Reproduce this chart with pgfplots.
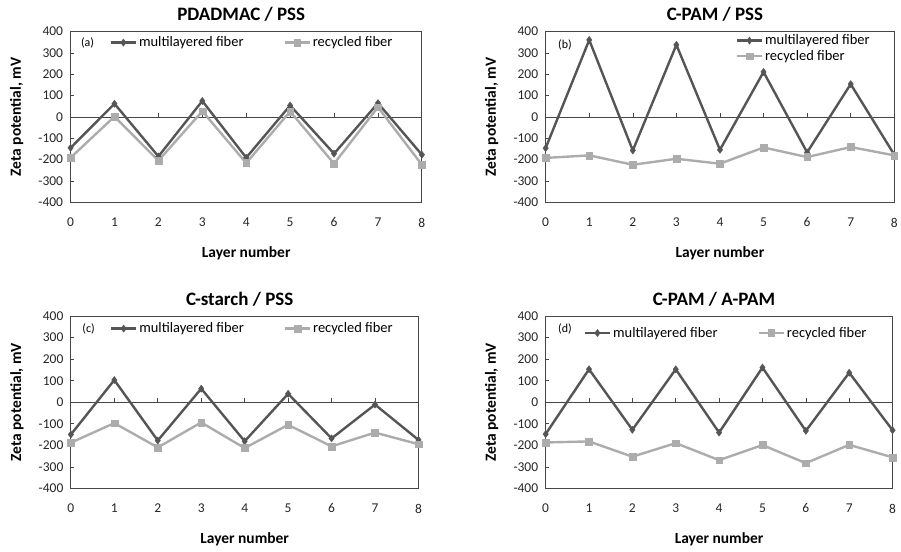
\documentclass[border=0pt]{standalone}
\usepackage{fontspec}
\setmainfont{Carlito}
\usepackage{pgfplots}
\pgfplotsset{compat=1.18}
\definecolor{dk}{RGB}{85,85,85}
\definecolor{lt}{RGB}{172,172,172}
\definecolor{ax}{RGB}{70,70,70}
\pgfplotsset{
  zp/.style={
    scale only axis,
    xmin=0, xmax=8, ymin=-400, ymax=400,
    xtick={0,...,8}, ytick={-400,-300,...,400},
    /pgf/number format/assume math mode=true,
    axis line style={draw=ax, line width=0.8pt},
    xtick style={draw=none},
    ytick style={draw=ax, line width=0.6pt},
    ytick pos=left, xtick pos=bottom,
    major tick length=3pt, tick align=inside,
    ticklabel style={font=\fontsize{13.5}{15}\selectfont, text=black!85},
    xticklabel style={yshift=-12pt},
    yticklabel style={xshift=-4pt},
    every axis title/.style={at={(rel axis cs:0.5,1)}, anchor=center, yshift=17pt, xshift=-5pt,
      font=\bfseries\fontsize{19}{22}\selectfont},
    every axis x label/.style={at={(rel axis cs:0.5,0)}, anchor=center, yshift=-51pt,
      font=\bfseries\fontsize{15.5}{18}\selectfont},
    every axis y label/.style={at={(rel axis cs:0,0.5)}, rotate=90, anchor=center, yshift=54pt,
      font=\bfseries\fontsize{15.5}{18}\selectfont},
    xlabel={Layer number},
    ylabel={Zeta potential, mV},
    legend style={draw=none, fill=none, inner sep=0pt, font=\fontsize{14.5}{17}\selectfont,
      /tikz/every even column/.append style={column sep=38pt}},
    legend cell align=left,
    legend image code/.code={\draw[mark repeat=2,mark phase=2] plot coordinates {(0pt,0pt)(12.5pt,0pt)(25pt,0pt)};},
    clip=false,
  },
  mul/.style={draw=dk, line width=2.4pt, mark=diamond*, mark size=3.6pt, mark options={fill=dk, draw=dk, line width=0.4pt}},
  rec/.style={draw=lt, line width=2.4pt, mark=square*, mark size=3.4pt, mark options={fill=lt, draw=lt, line width=0.4pt}},
}
\newcommand{\zeroline}{%
  \draw[ax, line width=0.7pt] (axis cs:0,0) -- (axis cs:8,0);
  \pgfplotsinvokeforeach{1,...,7}{\draw[ax, line width=0.6pt] (axis cs:##1,0) -- ([yshift=4pt]axis cs:##1,0);}
}
\begin{document}
\begin{tikzpicture}
\path (0pt,0pt) rectangle (901pt,553pt);
% (a)
\begin{axis}[zp, at={(70.7pt,350.3pt)}, anchor=south west, width=352pt, height=171pt,
  title={PDADMAC / PSS},
  legend columns=2, legend style={at={(rel axis cs:0,1)}, anchor=west, xshift=39pt, yshift=-11pt}]
\zeroline
\addplot[mul] coordinates {(0,-145)(1,62)(2,-185)(3,75)(4,-191)(5,54)(6,-172)(7,65)(8,-177)};
\addlegendentry{multilayered fiber}
\addplot[rec] coordinates {(0,-191)(1,2)(2,-205)(3,27)(4,-216)(5,26)(6,-219)(7,46)(8,-224)};
\addlegendentry{recycled fiber}
\node[anchor=west, font=\fontsize{12}{14}\selectfont] at (rel axis cs:0,1) [xshift=7pt, yshift=-11pt] {(a)};
\end{axis}
% (b)
\begin{axis}[zp, at={(546.7pt,350.3pt)}, anchor=south west, width=349.3pt, height=171pt,
  title={C-PAM / PSS},
  legend columns=1, legend style={at={(rel axis cs:0,1)}, anchor=north west, xshift=190.3pt, yshift=-1pt,
    /tikz/every row/.append style={row sep=1pt}}]
\zeroline
\addplot[mul] coordinates {(0,-146)(1,361)(2,-157)(3,338)(4,-154)(5,211)(6,-166)(7,154)(8,-177)};
\addlegendentry{multilayered fiber}
\addplot[rec] coordinates {(0,-192)(1,-180)(2,-224)(3,-196)(4,-219)(5,-143)(6,-188)(7,-141)(8,-180)};
\addlegendentry{recycled fiber}
\node[anchor=west, font=\fontsize{12}{14}\selectfont] at (rel axis cs:0,1) [xshift=9pt, yshift=-13pt] {(b)};
\end{axis}
% (c)
\begin{axis}[zp, at={(71pt,63.7pt)}, anchor=south west, width=348.3pt, height=172.6pt,
  title={C-starch / PSS},
  legend columns=2, legend style={at={(rel axis cs:0,1)}, anchor=west, xshift=39pt, yshift=-12.5pt}]
\zeroline
\addplot[mul] coordinates {(0,-150)(1,103)(2,-178)(3,63)(4,-181)(5,39)(6,-168)(7,-11)(8,-175)};
\addlegendentry{multilayered fiber}
\addplot[rec] coordinates {(0,-188)(1,-97)(2,-210)(3,-94)(4,-213)(5,-105)(6,-205)(7,-141)(8,-195)};
\addlegendentry{recycled fiber}
\node[anchor=west, font=\fontsize{12}{14}\selectfont] at (rel axis cs:0,1) [xshift=8pt, yshift=-12.5pt] {(c)};
\end{axis}
% (d)
\begin{axis}[zp, at={(546.7pt,63.7pt)}, anchor=south west, width=347.6pt, height=172.6pt,
  title={C-PAM / A-PAM},
  legend columns=2, legend style={at={(rel axis cs:0,1)}, anchor=west, xshift=38pt, yshift=-17pt}]
\zeroline
\addplot[mul] coordinates {(0,-148)(1,153)(2,-128)(3,153)(4,-141)(5,161)(6,-133)(7,137)(8,-130)};
\addlegendentry{multilayered fiber}
\addplot[rec] coordinates {(0,-187)(1,-182)(2,-253)(3,-190)(4,-269)(5,-199)(6,-283)(7,-198)(8,-256)};
\addlegendentry{recycled fiber}
\node[anchor=west, font=\fontsize{12}{14}\selectfont] at (rel axis cs:0,1) [xshift=9pt, yshift=-13pt] {(d)};
\end{axis}
\end{tikzpicture}
\end{document}
